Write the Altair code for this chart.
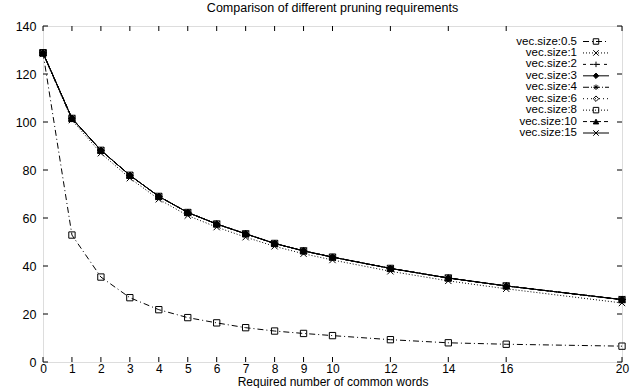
import altair as alt
import pandas as pd

# ---- data ----
words = [0, 1, 2, 3, 4, 5, 6, 7, 8, 9, 10, 12, 14, 16, 20]

vec_0_5 = [128.8, 52.9, 35.4, 26.8, 21.8, 18.5, 16.3, 14.3, 12.9, 11.9, 11.0, 9.3, 8.0, 7.4, 6.6]
vec_1 = [128.5, 100.8, 87.0, 76.6, 67.8, 61.0, 56.2, 52.0, 48.2, 45.1, 42.5, 37.8, 33.8, 30.5, 24.6]
vec_2 = [128.8, 101.5, 88.2, 77.8, 69.0, 62.3, 57.5, 53.4, 49.4, 46.3, 43.7, 39.0, 35.0, 31.7, 26.0]
vec_3 = [128.8, 101.5, 88.2, 77.8, 69.0, 62.3, 57.5, 53.4, 49.4, 46.3, 43.7, 39.0, 35.0, 31.7, 26.0]
vec_4 = [128.8, 101.5, 88.2, 77.8, 69.0, 62.3, 57.5, 53.4, 49.4, 46.3, 43.7, 39.0, 35.0, 31.7, 26.0]
vec_6 = [128.8, 101.5, 88.2, 77.8, 69.0, 62.3, 57.5, 53.4, 49.4, 46.3, 43.7, 39.0, 35.0, 31.7, 26.0]
vec_8 = [128.8, 101.5, 88.2, 77.8, 69.0, 62.3, 57.5, 53.4, 49.4, 46.3, 43.7, 39.0, 35.0, 31.7, 26.0]
vec_10 = [128.8, 101.5, 88.2, 77.8, 69.0, 62.3, 57.5, 53.4, 49.4, 46.3, 43.7, 39.0, 35.0, 31.7, 26.0]
vec_15 = [128.8, 101.5, 88.2, 77.8, 69.0, 62.3, 57.5, 53.4, 49.4, 46.3, 43.7, 39.0, 35.0, 31.7, 26.0]

series_names = ["vec.size:0.5", "vec.size:1", "vec.size:2", "vec.size:3", "vec.size:4",
                "vec.size:6", "vec.size:8", "vec.size:10", "vec.size:15"]
series_values = [vec_0_5, vec_1, vec_2, vec_3, vec_4, vec_6, vec_8, vec_10, vec_15]

x_ticks = [0, 1, 2, 3, 4, 5, 6, 7, 8, 9, 10, 12, 14, 16, 20]
y_ticks = [0, 20, 40, 60, 80, 100, 120, 140]

title_text = "Comparison of different pruning requirements"
x_title = "Required number of common words"

# ---- styles ----
FONT = "Liberation Sans"
W, H = 579, 336
dashes = [[6, 3, 1, 3], [1, 2], [3, 4], [1, 0], [6, 2, 1, 2], [1, 3], [1, 2], [4, 3], [1, 0]]
X_PATH = "M-1,-1L1,1M-1,1L1,-1"
PLUS_PATH = "M-1,0L1,0M0,-1L0,1"
STAR_PATH = "M-1,0L1,0M0,-1L0,1M-0.7,-0.7L0.7,0.7M-0.7,0.7L0.7,-0.7"
shapes = ["square", X_PATH, PLUS_PATH, "diamond", STAR_PATH, "diamond", "square", "triangle-up", X_PATH]
fills = ["transparent", "transparent", "transparent", "black", "transparent",
         "transparent", "transparent", "black", "transparent"]

rows = []
for name, vals in zip(series_names, series_values):
    for w, v in zip(words, vals):
        rows.append({"series": name, "words": w, "value": v})
df = pd.DataFrame(rows)
legend_df = pd.DataFrame({"series": series_names})
xt_df = pd.DataFrame({"v": x_ticks})
yt_df = pd.DataFrame({"v": y_ticks})

xscale = alt.Scale(domain=[0, 20], nice=False, zero=False)
yscale = alt.Scale(domain=[0, 140], nice=False)
dash_enc = alt.StrokeDash("series:N", scale=alt.Scale(domain=series_names, range=dashes), legend=None)
shape_enc = alt.Shape("series:N", scale=alt.Scale(domain=series_names, range=shapes), legend=None)
fill_enc = alt.Fill("series:N", scale=alt.Scale(domain=series_names, range=fills), legend=None)

x_enc = alt.X("words:Q", scale=xscale,
              axis=alt.Axis(values=x_ticks, format="d", title=x_title, domain=False, ticks=False,
                            grid=False, labelFont=FONT, labelFontSize=12, labelColor="black",
                            labelPadding=1, titleFont=FONT, titleFontSize=12, titleFontWeight="normal",
                            titleColor="black", titleY=26, titleBaseline="bottom", labelFlush=False))
y_enc = alt.Y("value:Q", scale=yscale,
              axis=alt.Axis(values=y_ticks, title=None, domain=False, ticks=False, grid=False,
                            labelFont=FONT, labelFontSize=12.5, labelColor="black", labelPadding=7,
                            labelFlush=False))

base = alt.Chart(df)
lines = base.mark_line(color="black", strokeWidth=1).encode(
    x=x_enc, y=y_enc, strokeDash=dash_enc, detail="series:N")
points = base.mark_point(color="black", size=40, strokeWidth=1, opacity=1).encode(
    x=alt.X("words:Q", scale=xscale), y=alt.Y("value:Q", scale=yscale, axis=None),
    shape=shape_enc, fill=fill_enc)

tick_len = 5
xt_bottom = alt.Chart(xt_df).mark_rule(color="black", strokeWidth=1).encode(
    x=alt.X("v:Q", scale=xscale), y=alt.value(H), y2=alt.value(H - tick_len))
xt_top = alt.Chart(xt_df).mark_rule(color="black", strokeWidth=1).encode(
    x=alt.X("v:Q", scale=xscale), y=alt.value(0), y2=alt.value(tick_len))
yt_left = alt.Chart(yt_df).mark_rule(color="black", strokeWidth=1).encode(
    y=alt.Y("v:Q", scale=yscale, axis=None), x=alt.value(0), x2=alt.value(tick_len))
yt_right = alt.Chart(yt_df).mark_rule(color="black", strokeWidth=1).encode(
    y=alt.Y("v:Q", scale=yscale, axis=None), x=alt.value(W - tick_len), x2=alt.value(W))

leg_y = alt.Y("series:N", sort=series_names,
              scale=alt.Scale(type="point", range=[15.5, 107], padding=0), axis=None)
leg_text = alt.Chart(legend_df).mark_text(align="right", baseline="middle", font=FONT,
                                           fontSize=11.5, color="black").encode(
    x=alt.value(534), y=leg_y, text="series:N")
leg_rule = alt.Chart(legend_df).mark_rule(color="black", strokeWidth=1).encode(
    x=alt.value(540), x2=alt.value(566), y=leg_y, strokeDash=dash_enc)
leg_pts = alt.Chart(legend_df).mark_point(color="black", size=30, strokeWidth=1, opacity=1).encode(
    x=alt.value(553), y=leg_y, shape=shape_enc, fill=fill_enc)

chart = alt.layer(
    lines, points, xt_bottom, xt_top, yt_left, yt_right, leg_text, leg_rule, leg_pts
).resolve_scale(y="independent").properties(
    width=W, height=H,
    autosize=alt.AutoSizeParams(type="none"),
    padding={"left": 43, "top": 26, "right": 9, "bottom": 26},
    title=alt.TitleParams(title_text, font=FONT, fontSize=12.5, fontWeight="normal",
                          color="black", anchor="middle", offset=6),
).configure_view(stroke="black", strokeWidth=1.5).configure(background="white")

chart.save("out.html", embed_options={"renderer": "svg", "actions": False})
